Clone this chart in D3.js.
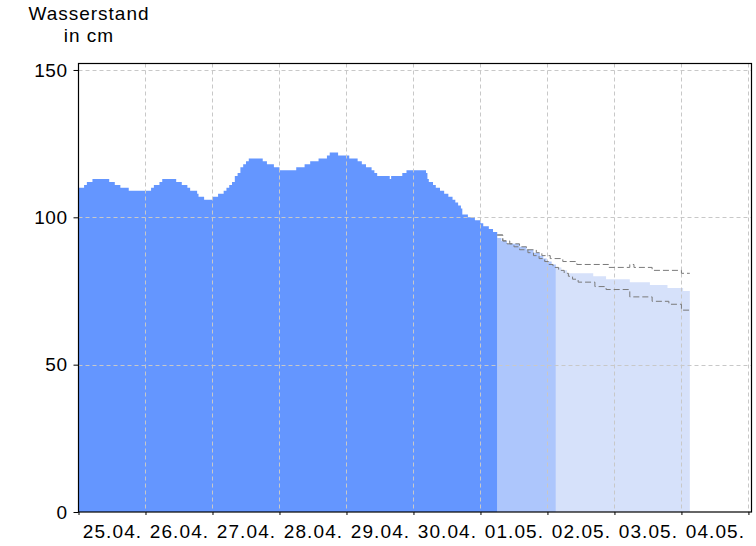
<!DOCTYPE html>
<html>
<head>
<meta charset="utf-8">
<script src="https://cdn.jsdelivr.net/npm/d3@7"></script>
<style>
  html, body { margin: 0; padding: 0; background: #fff; }
  svg { display: block; font-family: "Liberation Sans", Arial, sans-serif; }
</style>
</head>
<body>
<svg id="chart" width="756" height="546"></svg>
<script>
// ---- data (hours since 25.04. 00:00) ----
const dayLabels = ["25.04.","26.04.","27.04.","28.04.","29.04.","30.04.","01.05.","02.05.","03.05.","04.05."];
const yTicks = [0, 50, 100, 150];

const obsHours  = [0,2,3,5,11,13,15,18,26,27,29,30,35,37,39,40,42.5,43,45,48,50,52,53,54,55,56,57,58,59,60,61,66,67.5,70,72,78,81,83,86,89,90,93,97,100,101.5,103,105,106,107,111.5,112,116,117.5,124.5,125,125.5,127,128,129.5,131,132.5,134,135,136,137,137.5,139.5,142,144,145,147,148.5,150];
const obsValues = [110,111,112,113,112,111,110,109,110,111,112,113,112,111,110,109,108,107,106,107,108,109,110,111,112,114,115,117,118,119,120,119,118,117,116,117,118,119,120,121,122,121,120,119,118,117,116,115,114,113,114,115,116,115,113,112,111,110,109,108,107,106,105,104,103,101,100,99,98,97,96,95,95];

const fcHours  = [150,151.5,153.5,158,160.5,163,165.3,166.5,167.7,169.5,171,173,175,184.4,189,197.5,204.7,211,216.6,219];
const fcValues = [93,92,91,90,89,88,87,86,85,84,83,82,81,80,79,78,77,76,75,75];
const fcNearEnd = 171;   // colour change of the forecast

const upHours  = [150,152,154.5,158,160.5,164,166,169,173.5,178.5,190,197.5,199,205.5,216,219];
const upValues = [94,92,91,90,89,88,87,86,85,84,83,84,83,82,81,81];
const loHours  = [150,152,153.5,156,158,161,163,165,167,168.5,170,172,174,175.5,177,179,185,189,197.5,205.5,211.5,216,219];
const loValues = [94,92,91,90,89,88,87,86,85,84,83,82,81,80,79,78,76.5,75.5,73,71.5,70.5,68.5,68.5];

// ---- layout ----
const svg = d3.select("#chart");
const L = 78.5, R = 751.5, T = 63.5, B = 512;
const x = d3.scaleLinear().domain([0, 241.1]).range([L, R]);
const y = d3.scaleLinear().domain([0, 152.2]).range([B, T]);

const zip = (h, v) => h.map((d, i) => ({h: d, v: v[i]}));
const obs = zip(obsHours, obsValues);
const fc = zip(fcHours, fcValues);
const up = zip(upHours, upValues);
const lo = zip(loHours, loValues);

const area = d3.area().curve(d3.curveStepAfter).x(d => x(d.h)).y0(y(0)).y1(d => y(d.v));
const line = d3.line().curve(d3.curveStepAfter).x(d => x(d.h)).y(d => y(d.v));

svg.append("path").datum(fc.filter(d => d.h >= fcNearEnd)).attr("d", area).attr("fill", "#d6e1fa");
svg.append("path").datum(fc.filter(d => d.h <= fcNearEnd)).attr("d", area).attr("fill", "#adc6fc");
svg.append("path").datum(obs).attr("d", area).attr("fill", "#6496ff");

// grid
const dayBounds = d3.range(0, 241, 24);
const grid = svg.append("g").attr("stroke", "#c8c8c8").attr("stroke-dasharray", "4,3").attr("stroke-width", 1);
dayBounds.slice(1).forEach(h => grid.append("line").attr("x1", Math.round(x(h)) + 0.5).attr("x2", Math.round(x(h)) + 0.5).attr("y1", T).attr("y2", B));
yTicks.slice(1).forEach(v => grid.append("line").attr("x1", L).attr("x2", R).attr("y1", Math.round(y(v)) + 0.5).attr("y2", Math.round(y(v)) + 0.5));

// forecast band lines
svg.append("path").datum(up).attr("d", line).attr("fill", "none").attr("stroke", "#7a7a7a").attr("stroke-dasharray", "6,3");
svg.append("path").datum(lo).attr("d", line).attr("fill", "none").attr("stroke", "#7a7a7a").attr("stroke-dasharray", "6,3");

// frame
svg.append("rect").attr("x", L).attr("y", T).attr("width", R - L).attr("height", B - T)
  .attr("fill", "none").attr("stroke", "#000").attr("stroke-width", 1.2);

// axes
const yAxis = d3.axisLeft(y).tickValues(yTicks).tickSize(5).tickPadding(6);
const gy = svg.append("g").attr("transform", `translate(${L},0)`).call(yAxis);
gy.select(".domain").remove();
gy.selectAll("text").attr("font-size", 19).attr("fill", "#000").attr("font-family", "Liberation Sans, Arial, sans-serif").attr("letter-spacing", 0.5);

const xAxis = d3.axisBottom(x).tickValues(dayBounds).tickSize(3).tickFormat("");
const gx = svg.append("g").attr("transform", `translate(0,${B})`).call(xAxis);
gx.select(".domain").remove();

const xLab = d3.axisBottom(x).tickValues(dayBounds.map(h => h + 12)).tickSize(0).tickPadding(13)
  .tickFormat((d, i) => dayLabels[i]);
const gl = svg.append("g").attr("transform", `translate(0,${B})`).call(xLab);
gl.select(".domain").remove();
gl.selectAll("text").attr("font-size", 19).attr("fill", "#000").attr("font-family", "Liberation Sans, Arial, sans-serif").attr("letter-spacing", 1.1);

// title
const title = svg.append("text").attr("x", 89).attr("text-anchor", "middle").attr("font-size", 19).attr("letter-spacing", 1).attr("fill", "#000");
title.append("tspan").attr("x", 89).attr("y", 20).text("Wasserstand");
title.append("tspan").attr("x", 89).attr("y", 42).text("in cm");
</script>
</body>
</html>
